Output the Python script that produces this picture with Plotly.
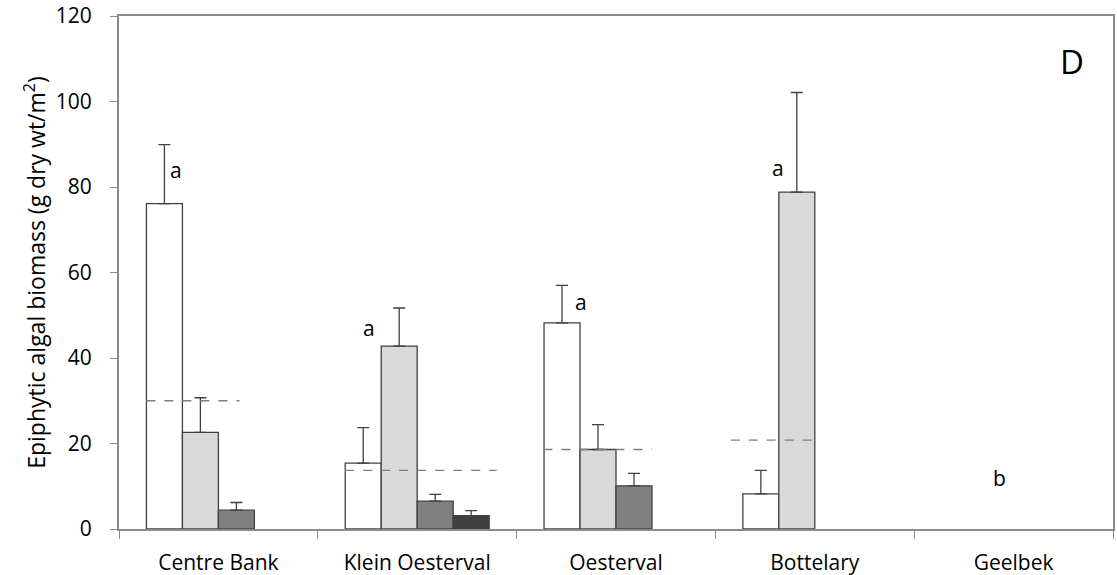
import plotly.graph_objects as go

# ---- data ----
sites = ["Centre Bank", "Klein Oesterval", "Oesterval", "Bottelary", "Geelbek"]
series_names = ["Series 1", "Series 2", "Series 3", "Series 4"]
s1 = [76.1, 15.4, 48.2, 8.2, None]
s2 = [22.6, 42.8, 18.6, 78.8, None]
s3 = [4.4, 6.5, 10.1, None, None]
s4 = [None, 3.1, None, None, None]
e1 = [13.8, 8.3, 8.8, 5.5, 0]
e2 = [8.1, 8.9, 5.8, 23.3, 0]
e3 = [1.8, 1.6, 2.9, 0, 0]
e4 = [0, 1.2, 0, 0, 0]
site_means = [30.0, 13.7, 18.6, 20.8, None]
sig_letters = ["a", "a", "a", "a", "b"]
sig_y = [84.0, 47.0, 53.0, 84.5, 12.0]

# ---- styling ----
fills = ["#ffffff", "#d9d9d9", "#808080", "#404040"]
edge = "#404040"
FONT = "Open Sans"
FS = 21

fig = go.Figure()
for name, vals, errs, col in zip(series_names, [s1, s2, s3, s4], [e1, e2, e3, e4], fills):
    fig.add_trace(go.Bar(
        x=sites, y=vals, name=name,
        marker=dict(color=col, line=dict(color=edge, width=1.3)),
        error_y=dict(type="data", array=errs, arrayminus=[0] * len(errs),
                     symmetric=False, color=edge, thickness=1.3, width=6),
    ))

# dashed mean lines (span offsets in category units)
mean_spans = [(-0.362, 0.106), (-0.362, 0.40), (-0.365, 0.181), (-0.423, 0.0), None]
for i, (m, sp) in enumerate(zip(site_means, mean_spans)):
    if m is None or sp is None:
        continue
    fig.add_shape(type="line", xref="x", yref="y",
                  x0=i + sp[0], x1=i + sp[1], y0=m, y1=m,
                  line=dict(color="#7f7f7f", width=1.3, dash="dash"))

# significance letters (x offsets in category units)
letter_dx = [-0.215, -0.24, -0.176, -0.186, -0.07]
for i, (t, yv, dx) in enumerate(zip(sig_letters, sig_y, letter_dx)):
    fig.add_annotation(x=i + dx, y=yv, xref="x", yref="y", text=t,
                       xanchor="center", yanchor="middle",
                       showarrow=False, font=dict(family=FONT, size=FS, color="#000"))

# panel letter
fig.add_annotation(x=(1072 - 119) / (1113 - 119), y=(529 - 61) / (529 - 16),
                   xref="paper", yref="paper", text="D", showarrow=False,
                   xanchor="center", yanchor="middle",
                   font=dict(family=FONT, size=33, color="#000"))

fig.update_layout(
    width=1117, height=575,
    margin=dict(l=119, r=4, t=16, b=46, pad=0),
    paper_bgcolor="white", plot_bgcolor="white",
    barmode="group", bargap=0.276, bargroupgap=0,
    showlegend=False,
    font=dict(family=FONT, size=FS, color="#000"),
)
fig.update_xaxes(
    type="category", range=[-0.5, 4.5], automargin=False,
    showline=True, linecolor="#8c8c8c", linewidth=2, mirror=True,
    ticks="outside", tickson="boundaries", ticklen=8, tickcolor="#8c8c8c", tickwidth=1,
    ticklabelstandoff=14,
    showgrid=False, tickfont=dict(family=FONT, size=FS, color="#000"),
)
fig.update_yaxes(
    range=[0, 120], dtick=20, automargin=False,
    showline=True, linecolor="#8c8c8c", linewidth=2, mirror=True,
    ticks="outside", ticklen=7, tickcolor="#8c8c8c", tickwidth=1,
    ticklabelstandoff=14,
    showgrid=False, zeroline=False,
    tickfont=dict(family=FONT, size=FS, color="#000"),
    title=dict(text="Epiphytic algal biomass (g dry wt/m<sup>2</sup>)",
               font=dict(family=FONT, size=23, color="#000"), standoff=4),
)

# remove the default 8px page margin so the figure fills the window exactly
fig.write_html(
    "out.html",
    config={"displayModeBar": False},
    post_script="document.body.style.margin='0px';"
                "document.documentElement.style.overflow='hidden';",
)
